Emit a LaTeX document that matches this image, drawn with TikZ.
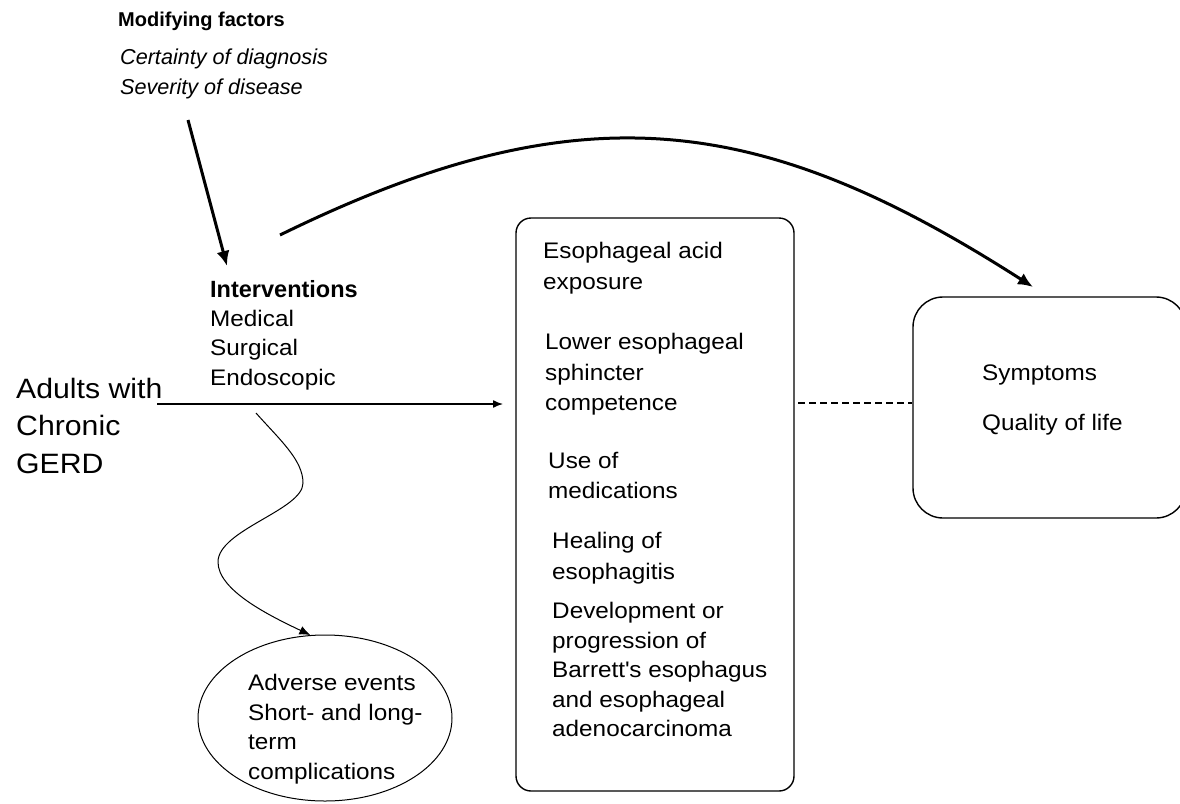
\documentclass[tikz,border=0pt]{standalone}
\usepackage{fontspec}
\setmainfont{Liberation Sans}
\newfontfamily\widefont[FakeStretch=1.08]{Liberation Sans}
\usetikzlibrary{arrows.meta,shapes.geometric}
\begin{document}
\begin{tikzpicture}[x=1pt,y=-1pt,
  txt/.style={inner sep=0pt,anchor=north west,align=left,font={\widefont\fontsize{22.5}{30.5}\selectfont}},
  boxline/.style={draw=black,line width=1.4pt},
  thick arrow/.style={line width=3pt,-{Latex[length=15pt,width=13pt]}},
  thin arrow/.style={line width=1.4pt,-{Latex[length=10pt,width=8pt]}},
  wave arrow/.style={line width=1pt,-{Latex[length=11pt,width=9pt]}}]
\useasboundingbox (0,0) rectangle (1180,803);
\fill[white] (0,0) rectangle (1180,803);

% boxes
\node[boxline,rounded corners=15pt,minimum width=278pt,minimum height=573pt,inner sep=0pt] (mbox) at (655,504.5) {};
\node[boxline,rounded corners=30pt,minimum width=273pt,minimum height=221pt,inner sep=0pt] (obox) at (1049.5,407.5) {};
\node[ellipse,draw=black,line width=1pt,minimum width=254pt,minimum height=166pt,inner sep=0pt] (adv) at (325,718) {};

% texts
\node[txt,font={\bfseries\fontsize{20}{24}\selectfont}] (mod) at (118,12) {Modifying factors};
\node[txt,font={\itshape\fontsize{21.6}{30}\selectfont}] (modf) at (120,49) {Certainty of diagnosis\\Severity of disease};
\node[txt,font={\widefont\fontsize{22.5}{29.3}\selectfont}] (interv) at (210,280) {{\fontspec{Liberation Sans}\bfseries\fontsize{23.5}{29.3}\selectfont Interventions}\\Medical\\Surgical\\Endoscopic};
\node[txt,font={\widefont\fontsize{28}{37.5}\selectfont}] (adults) at (16,378) {Adults with\\Chronic\\GERD};

\node[txt] (t1) at (543,242) {Esophageal acid\\exposure};
\node[txt] (t2) at (545,333) {Lower esophageal\\sphincter\\competence};
\node[txt] (t3) at (548,452) {Use of\\medications};
\node[txt] (t4) at (552,532) {Healing of\\esophagitis};
\node[txt,font={\widefont\fontsize{22.5}{29.5}\selectfont}] (t5) at (552,602) {Development or\\progression of\\Barrett\textquotesingle s esophagus\\and esophageal\\adenocarcinoma};

\node[txt] (sym) at (982,365) {Symptoms};
\node[txt] (qol) at (982,414) {Quality of life};

\node[txt,font={\widefont\fontsize{22.5}{29.5}\selectfont}] (advt) at (248,674) {Adverse events\\Short- and long-\\term\\complications};

% connectors
\coordinate (m1) at (188,120);
\coordinate (m2) at (227,266);
\draw[thick arrow] (m1) -- (m2);

\coordinate (c1) at (280,235);
\coordinate (c2) at (1033,287);
\draw[thick arrow] (c1) .. controls (580,88) and (760,112) .. (c2);

\coordinate (h1) at (157,404);
\coordinate (h2) at (503,404);
\draw[thin arrow] (h1) -- (h2);

\coordinate (d1) at (798,403);
\draw[line width=1.2pt,dash pattern=on 7pt off 4pt] (d1) -- (d1 -| obox.west);

\coordinate (w1) at (256,413);
\draw[wave arrow] (w1) .. controls (280,440) and (303,460) .. (303,483)
  .. controls (303,510) and (218,530) .. (218,562)
  .. controls (218,590) and (268,615) .. (adv.100);
\end{tikzpicture}
\end{document}
